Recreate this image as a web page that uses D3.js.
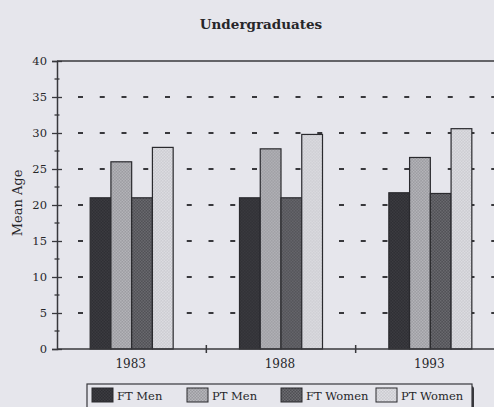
<!DOCTYPE html>
<html>
<head>
<meta charset="utf-8">
<script src="https://cdn.jsdelivr.net/npm/d3@7"></script>
<style>
html,body{margin:0;padding:0;background:#e6e6ec;overflow:hidden;}
svg{display:block;}
text{font-family:"DejaVu Serif",serif;fill:#26262a;}
</style>
</head>
<body>
<svg id="chart" width="494" height="407"></svg>
<script>
const years = ["1983", "1988", "1993"];
const seriesNames = ["FT Men", "PT Men", "FT Women", "PT Women"];
const ftMen   = [21, 21, 21.7];
const ptMen   = [26, 27.8, 26.6];
const ftWomen = [21, 21, 21.6];
const ptWomen = [28, 29.8, 30.6];
const yTicks = [0, 5, 10, 15, 20, 25, 30, 35, 40];
const title = "Undergraduates";
const yLabel = "Mean Age";

const seriesValues = [ftMen, ptMen, ftWomen, ptWomen];
const fills = ["url(#pFTM)", "url(#pPTM)", "url(#pFTW)", "url(#pPTW)"];

const svg = d3.select("#chart");
const defs = svg.append("defs");
function checker(id, c1, c2) {
  const p = defs.append("pattern").attr("id", id).attr("patternUnits", "userSpaceOnUse")
    .attr("width", 3).attr("height", 3);
  p.append("rect").attr("width", 3).attr("height", 3).attr("fill", c1);
  p.append("rect").attr("x", 0).attr("y", 0).attr("width", 1.5).attr("height", 1.5).attr("fill", c2);
  p.append("rect").attr("x", 1.5).attr("y", 1.5).attr("width", 1.5).attr("height", 1.5).attr("fill", c2);
}
checker("pFTM", "#2e2e33", "#3c3c41");
checker("pPTM", "#9a9a9f", "#b6b6bb");
checker("pFTW", "#4e4e53", "#6c6c71");
checker("pPTW", "#cbcbd0", "#dedee3");

const mLeft = 57, mRight = 505, mTop = 61, mBottom = 349;
const y = d3.scaleLinear().domain([0, 40]).range([mBottom, mTop]);
const x0 = d3.scaleBand().domain(years).range([mLeft, mRight]).padding(0);
const groupW = 83;
const x1 = d3.scaleBand().domain(seriesNames).range([0, groupW]).padding(0);

// dashed gridlines
svg.append("g").selectAll("line").data(yTicks.filter(t => t > 0 && t < 40)).join("line")
  .attr("x1", 78).attr("x2", 494)
  .attr("y1", d => y(d)).attr("y2", d => y(d))
  .attr("stroke", "#38383c").attr("stroke-width", 1.8)
  .attr("stroke-dasharray", "5,16.75");

// top border
svg.append("line").attr("x1", mLeft).attr("x2", 494).attr("y1", y(40)).attr("y2", y(40))
  .attr("stroke", "#38383c").attr("stroke-width", 1.5);

// bars
const groups = svg.append("g").selectAll("g").data(years).join("g")
  .attr("transform", d => `translate(${x0(d) + (x0.bandwidth() - groupW) / 2},0)`);
groups.selectAll("rect").data((d, i) => seriesNames.map((s, j) => ({s, j, v: seriesValues[j][i]})))
  .join("rect")
  .attr("x", d => x1(d.s)).attr("width", x1.bandwidth())
  .attr("y", d => y(d.v)).attr("height", d => y(0) - y(d.v))
  .attr("fill", d => fills[d.j])
  .attr("stroke", "#2a2a2e").attr("stroke-width", 1.2);

// y axis
const yAxis = d3.axisLeft(y).tickValues(yTicks).tickSize(5).tickPadding(5).tickFormat(d3.format("d"));
const ga = svg.append("g").attr("transform", `translate(${mLeft},0)`).call(yAxis);
ga.select(".domain").attr("stroke", "#38383c").attr("stroke-width", 1.5);
ga.selectAll(".tick line").attr("x2", 5).attr("x1", -5).attr("stroke", "#38383c").attr("stroke-width", 1.3);
ga.selectAll(".tick text").attr("font-size", 11.5).attr("fill", "#26262a").attr("font-family", "DejaVu Serif").attr("x", -10);
// minor ticks
const minor = d3.range(2.5, 40, 5);
svg.append("g").selectAll("line").data(minor).join("line")
  .attr("x1", mLeft - 2.5).attr("x2", mLeft + 2.5).attr("y1", d => y(d)).attr("y2", d => y(d))
  .attr("stroke", "#38383c").attr("stroke-width", 1.3);

// x axis
svg.append("line").attr("x1", mLeft).attr("x2", 494).attr("y1", y(0)).attr("y2", y(0))
  .attr("stroke", "#38383c").attr("stroke-width", 1.5);
svg.append("g").selectAll("line").data(years.slice(1)).join("line")
  .attr("x1", d => x0(d)).attr("x2", d => x0(d)).attr("y1", y(0) - 4).attr("y2", y(0) + 4)
  .attr("stroke", "#38383c").attr("stroke-width", 1.5);
svg.append("g").selectAll("text").data(years).join("text")
  .attr("x", d => x0(d) + x0.bandwidth() / 2 - 1).attr("y", 368)
  .attr("text-anchor", "middle").attr("font-size", 12).text(d => d);

// title
svg.append("text").attr("x", 261).attr("y", 29).attr("text-anchor", "middle")
  .attr("font-size", 13.5).attr("font-weight", "bold").text(title);

// y label
svg.append("text").attr("transform", "translate(22,203) rotate(-90)")
  .attr("text-anchor", "middle").attr("font-size", 13).text(yLabel);

// legend
svg.append("rect").attr("x", 89).attr("y", 386).attr("width", 385).attr("height", 40)
  .attr("fill", "#38383c").attr("rx", 3);
svg.append("rect").attr("x", 87).attr("y", 384).attr("width", 385).attr("height", 40)
  .attr("fill", "#e6e6ec").attr("stroke", "#38383c").attr("stroke-width", 1.2);
const legX = [92, 187, 281, 376];
const lg = svg.append("g").selectAll("g").data(seriesNames).join("g")
  .attr("transform", (d, i) => `translate(${legX[i]},388)`);
lg.append("rect").attr("width", 21).attr("height", 14)
  .attr("fill", (d, i) => fills[i]).attr("stroke", "#2a2a2e").attr("stroke-width", 1);
lg.append("text").attr("x", 25).attr("y", 12).attr("font-size", 11.5).text(d => d);
</script>
</body>
</html>
